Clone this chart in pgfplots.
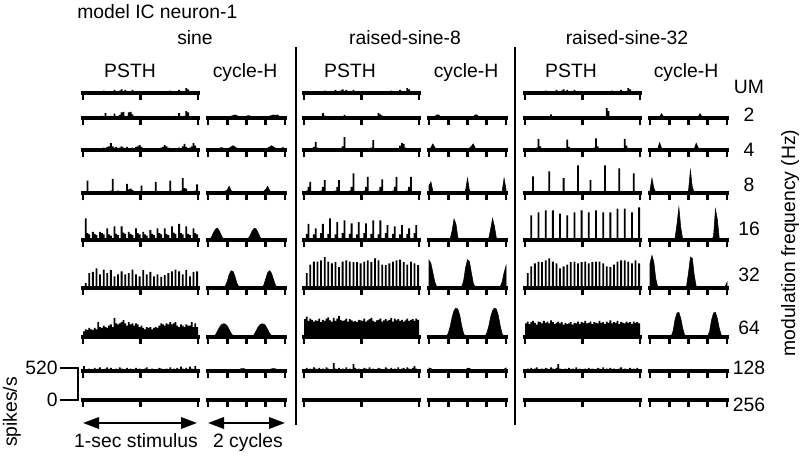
\documentclass[border=0pt]{standalone}
\usepackage{fontspec}
\setmainfont{Liberation Sans}
\usepackage{pgfplots}
\pgfplotsset{compat=1.18}
\usetikzlibrary{arrows.meta}
\pgfplotsset{
  hbase/.style={scale only axis, clip=false, anchor=south west,
    axis x line=bottom, axis y line=none,
    x axis line style={-, line width=2.3pt, line cap=rect},
    every outer x axis line/.append style={line width=2.3pt},
    tick align=outside, major tick length=5.5pt,
    major tick style={black, line width=2.2pt},
    xticklabels={}, ymin=0, ymax=700, y=0.046154pt,
    enlargelimits=false},
  psthax/.style={hbase, width=86.25pt, xmin=-0.5, xmax=63.5, xtick={-0.5,31.5,63.5}},
  cycax/.style={hbase, width=57.75pt, xmin=0, xmax=40, xtick={0,10,20,30,40}},
}
\newcommand{\psth}[3]{%
  \begin{axis}[psthax, at={(#1*0.75pt,-#2*0.75pt)}]
  \addplot[ybar, bar width=1, fill=black, draw=none]
    table[header=false, x expr=\coordindex, y index=0, row sep=\\]{#3};
  \end{axis}}
\newcommand{\cych}[3]{%
  \begin{axis}[cycax, at={(#1*0.75pt,-#2*0.75pt)}]
  \addplot[fill=black, draw=black, line width=0.4pt]
    table[header=false, x expr=\coordindex, y index=0, row sep=\\]{#3} \closedcycle;
  \end{axis}}
\newcommand{\psthempty}[2]{\begin{axis}[psthax, at={(#1*0.75pt,-#2*0.75pt)}]\end{axis}}
\newcommand{\cycempty}[2]{\begin{axis}[cycax, at={(#1*0.75pt,-#2*0.75pt)}]\end{axis}}

\begin{document}
\begin{tikzpicture}
\path[use as bounding box] (0,0) rectangle (600pt,-342pt);
\begin{scope}[x=0.75pt, y=-0.75pt, every node/.style={inner sep=0pt, font=\fontsize{14.5}{17}\selectfont}]
\node[anchor=base west] at (77,19) {model IC neuron-1};
\node[anchor=base] at (195,45) {sine};
\node[anchor=base] at (405,45) {raised-sine-8};
\node[anchor=base] at (627,45) {raised-sine-32};
\node[anchor=base] at (130,78) {PSTH};
\node[anchor=base] at (350,78) {PSTH};
\node[anchor=base] at (571,78) {PSTH};
\node[anchor=base] at (245,78) {cycle-H};
\node[anchor=base] at (466,78) {cycle-H};
\node[anchor=base] at (686,78) {cycle-H};
\node at (749,87) {UM};
\node at (749,115) {2};
\node at (749,150) {4};
\node at (749,185) {8};
\node at (749,229) {16};
\node at (749,275) {32};
\node at (749,328) {64};
\node at (749,368) {128};
\node at (749,405) {256};
\node[rotate=90] at (790,243) {modulation frequency (Hz)};
\node[rotate=90] at (12,412) {spikes/s};
\node[anchor=east] at (58,368) {520};
\node[anchor=east] at (58,400) {0};
\draw[line width=1.7pt] (60,368) -- (78,368) -- (78,400) -- (60,400);
\draw[line width=1.5pt] (296,47) -- (296,425);
\draw[line width=1.5pt] (515,47) -- (515,425);
\draw[line width=1.7pt, {Triangle[length=12pt,width=8.5pt]}-{Triangle[length=12pt,width=8.5pt]}] (83,423) -- (197,423);
\draw[line width=1.7pt, {Triangle[length=12pt,width=8.5pt]}-{Triangle[length=12pt,width=8.5pt]}] (208,423) -- (285,423);
\node[anchor=base] at (136,447) {1-sec stimulus};
\node[anchor=base] at (248,447) {2 cycles};
\end{scope}

% ---------------- sine ----------------
\psth{83}{93}{0\\20\\0\\0\\20\\0\\0\\20\\0\\0\\20\\40\\0\\0\\20\\0\\30\\50\\0\\20\\40\\60\\20\\50\\0\\20\\0\\50\\20\\0\\20\\0\\30\\0\\20\\0\\20\\30\\0\\20\\0\\20\\0\\30\\20\\0\\20\\0\\40\\20\\0\\20\\30\\50\\0\\20\\20\\80\\60\\30\\0\\30\\20\\0\\}
\psth{83}{118}{25\\20\\30\\25\\20\\30\\25\\20\\30\\25\\35\\30\\80\\25\\30\\35\\20\\70\\30\\25\\50\\90\\100\\30\\35\\90\\100\\60\\30\\25\\35\\25\\30\\20\\25\\30\\25\\20\\30\\25\\20\\30\\25\\30\\20\\25\\30\\25\\20\\25\\30\\35\\25\\80\\30\\25\\35\\110\\90\\30\\25\\20\\30\\25\\}
\psth{83}{150}{20\\0\\0\\30\\0\\20\\30\\20\\30\\20\\30\\40\\30\\50\\60\\110\\60\\40\\50\\30\\40\\60\\40\\30\\50\\30\\20\\40\\30\\50\\60\\80\\50\\20\\0\\20\\0\\0\\20\\0\\0\\20\\30\\40\\50\\80\\60\\40\\30\\20\\30\\20\\30\\40\\30\\60\\100\\50\\30\\40\\60\\110\\70\\30\\}
\psth{83}{193}{0\\30\\200\\20\\0\\10\\0\\10\\20\\10\\0\\0\\10\\20\\30\\40\\230\\30\\20\\40\\10\\0\\20\\30\\150\\60\\70\\50\\10\\0\\10\\30\\120\\20\\0\\0\\10\\0\\20\\30\\180\\20\\0\\10\\0\\10\\20\\30\\200\\20\\0\\10\\0\\20\\40\\240\\80\\70\\20\\0\\10\\0\\40\\140\\}
\psth{83}{240}{0\\350\\110\\90\\0\\130\\100\\80\\0\\130\\110\\90\\0\\190\\90\\70\\0\\220\\100\\80\\0\\220\\120\\100\\0\\130\\100\\80\\0\\190\\110\\90\\0\\130\\90\\70\\0\\160\\100\\80\\0\\190\\110\\90\\0\\190\\100\\80\\0\\220\\120\\100\\0\\260\\110\\90\\0\\220\\100\\80\\0\\190\\110\\90\\}
\psth{83}{288}{0\\80\\0\\240\\0\\260\\0\\320\\0\\220\\0\\300\\0\\240\\0\\290\\0\\190\\0\\220\\0\\270\\0\\220\\0\\240\\0\\300\\0\\220\\0\\190\\0\\290\\0\\220\\0\\260\\0\\190\\0\\220\\0\\180\\0\\210\\0\\240\\0\\270\\0\\300\\0\\270\\0\\220\\0\\290\\0\\190\\0\\260\\0\\270\\}
\psth{83}{337}{90\\125\\115\\150\\125\\115\\150\\125\\240\\160\\150\\185\\160\\150\\185\\205\\160\\310\\220\\205\\220\\240\\275\\220\\185\\240\\205\\220\\185\\220\\205\\160\\185\\150\\125\\160\\150\\160\\125\\150\\160\\150\\185\\220\\205\\185\\220\\205\\240\\205\\220\\240\\185\\160\\205\\185\\160\\205\\185\\185\\240\\160\\220\\160\\}
\psth{83}{371}{80\\30\\20\\40\\30\\20\\50\\30\\40\\60\\30\\20\\40\\60\\30\\50\\30\\20\\40\\30\\60\\40\\30\\20\\50\\30\\40\\20\\30\\50\\30\\40\\20\\30\\40\\60\\30\\20\\40\\30\\20\\30\\50\\40\\30\\20\\40\\30\\60\\30\\40\\20\\50\\30\\70\\40\\30\\50\\30\\70\\40\\30\\80\\30\\}
\psthempty{83}{400}
\cych{208}{118}{10\\10\\10\\10\\10\\20\\10\\10\\10\\20\\10\\20\\30\\40\\50\\40\\20\\20\\30\\20\\30\\40\\30\\20\\10\\10\\20\\10\\20\\30\\20\\20\\30\\40\\50\\40\\50\\30\\20\\10\\10\\}
\cych{208}{150}{10\\10\\20\\10\\20\\20\\30\\40\\30\\20\\20\\30\\50\\70\\50\\30\\20\\10\\10\\20\\10\\10\\20\\10\\10\\20\\20\\10\\20\\30\\20\\30\\50\\70\\50\\30\\20\\20\\30\\40\\20\\}
\cych{208}{193}{10\\10\\10\\10\\10\\10\\10\\10\\10\\30\\50\\110\\40\\10\\10\\10\\10\\10\\10\\10\\10\\10\\10\\10\\10\\10\\10\\10\\10\\30\\60\\110\\40\\10\\10\\10\\10\\10\\10\\10\\10\\}
\cych{208}{240}{0\\10\\60\\130\\180\\190\\140\\70\\20\\0\\0\\0\\0\\0\\0\\0\\0\\0\\0\\0\\10\\30\\80\\150\\190\\180\\120\\50\\10\\0\\0\\0\\0\\0\\0\\0\\0\\0\\0\\0\\0\\}
\cych{208}{288}{0\\0\\0\\0\\0\\0\\0\\0\\0\\30\\110\\220\\280\\270\\190\\80\\20\\0\\0\\0\\0\\0\\0\\0\\0\\0\\0\\0\\10\\50\\150\\250\\280\\240\\140\\50\\10\\0\\0\\0\\0\\}
\cych{208}{337}{0\\0\\0\\10\\40\\100\\160\\200\\215\\210\\180\\120\\60\\20\\0\\0\\0\\0\\0\\0\\0\\0\\0\\10\\40\\100\\160\\200\\215\\210\\180\\120\\60\\20\\0\\0\\0\\0\\0\\0\\0\\}
\cych{208}{371}{5\\5\\5\\5\\5\\5\\5\\5\\5\\5\\5\\5\\5\\5\\5\\15\\25\\35\\40\\35\\25\\15\\5\\5\\5\\5\\5\\5\\5\\5\\5\\15\\25\\35\\40\\35\\25\\15\\5\\5\\5\\}
\cycempty{208}{400}

% ---------------- raised-sine-8 ----------------
\psth{304}{93}{0\\20\\0\\0\\20\\0\\0\\20\\0\\0\\20\\40\\0\\0\\20\\0\\30\\50\\0\\20\\40\\60\\20\\50\\0\\20\\0\\50\\20\\0\\20\\0\\30\\0\\20\\0\\20\\30\\0\\20\\0\\20\\0\\30\\20\\0\\20\\0\\40\\20\\0\\20\\30\\50\\0\\20\\20\\80\\60\\30\\0\\30\\20\\0\\}
\psth{304}{118}{10\\0\\10\\0\\10\\0\\10\\0\\10\\30\\80\\40\\20\\10\\0\\10\\0\\10\\0\\10\\10\\30\\50\\20\\10\\0\\10\\0\\10\\0\\10\\0\\10\\0\\10\\10\\0\\10\\0\\10\\30\\80\\60\\40\\20\\10\\0\\10\\0\\10\\0\\10\\10\\0\\30\\20\\10\\0\\10\\0\\10\\0\\10\\0\\}
\psth{304}{150}{0\\10\\0\\10\\20\\50\\130\\40\\10\\0\\10\\0\\10\\0\\10\\0\\10\\0\\10\\0\\20\\60\\210\\30\\10\\0\\10\\0\\10\\0\\10\\0\\10\\0\\10\\0\\20\\40\\160\\20\\10\\0\\10\\0\\10\\0\\10\\0\\10\\0\\10\\0\\30\\70\\110\\100\\40\\10\\0\\10\\0\\10\\0\\10\\}
\psth{304}{193}{10\\40\\100\\180\\20\\10\\0\\10\\0\\40\\100\\210\\20\\10\\0\\10\\0\\40\\100\\210\\20\\10\\0\\10\\0\\40\\100\\320\\20\\10\\0\\10\\0\\40\\100\\260\\20\\10\\0\\10\\0\\40\\100\\220\\20\\10\\0\\10\\0\\40\\100\\260\\20\\10\\0\\10\\0\\40\\100\\260\\20\\10\\0\\10\\}
\psth{304}{240}{0\\100\\260\\20\\0\\90\\190\\20\\0\\110\\260\\20\\0\\100\\350\\20\\0\\90\\290\\20\\0\\110\\320\\20\\0\\100\\270\\20\\0\\90\\290\\20\\0\\110\\270\\20\\0\\100\\320\\20\\0\\90\\320\\20\\0\\110\\240\\20\\0\\100\\220\\20\\0\\90\\240\\20\\0\\100\\190\\20\\0\\110\\240\\20\\}
\psth{304}{288}{0\\240\\0\\380\\0\\430\\0\\430\\0\\450\\0\\500\\0\\430\\0\\400\\0\\420\\0\\340\\0\\430\\0\\450\\0\\430\\0\\420\\0\\420\\0\\400\\0\\430\\0\\450\\0\\420\\0\\480\\0\\450\\0\\380\\0\\370\\0\\400\\0\\430\\0\\450\\0\\460\\0\\420\\0\\380\\0\\430\\0\\400\\0\\370\\}
\psth{304}{337}{290\\330\\260\\300\\280\\250\\270\\260\\300\\240\\280\\260\\300\\320\\270\\250\\310\\260\\300\\340\\280\\260\\270\\300\\250\\290\\270\\250\\260\\240\\280\\270\\260\\300\\250\\270\\290\\310\\260\\240\\270\\280\\300\\250\\270\\290\\260\\280\\310\\250\\300\\270\\290\\260\\280\\250\\270\\300\\260\\280\\290\\260\\300\\280\\}
\psth{304}{371}{30\\50\\20\\40\\30\\60\\40\\20\\50\\30\\40\\30\\60\\40\\30\\20\\130\\40\\30\\50\\20\\40\\30\\60\\30\\40\\20\\110\\50\\30\\40\\30\\20\\50\\40\\30\\60\\30\\40\\20\\30\\50\\40\\30\\20\\60\\40\\30\\50\\30\\40\\20\\60\\30\\40\\50\\30\\60\\40\\30\\50\\80\\40\\30\\}
\psthempty{304}{400}
\cych{429}{118}{10\\10\\10\\20\\50\\50\\20\\10\\10\\10\\0\\10\\0\\10\\0\\10\\0\\10\\0\\10\\0\\10\\10\\20\\50\\50\\20\\10\\0\\10\\0\\10\\0\\10\\0\\10\\0\\10\\0\\10\\10\\}
\cych{429}{150}{10\\40\\100\\40\\10\\0\\10\\0\\10\\0\\10\\0\\10\\0\\10\\0\\10\\0\\10\\0\\10\\30\\60\\100\\30\\10\\0\\10\\0\\10\\0\\10\\0\\10\\0\\10\\0\\10\\0\\10\\10\\}
\cych{429}{193}{120\\180\\30\\10\\0\\10\\0\\10\\0\\10\\0\\10\\0\\10\\0\\10\\0\\10\\0\\40\\240\\40\\10\\0\\10\\0\\10\\0\\10\\0\\10\\0\\10\\0\\10\\0\\10\\0\\30\\240\\60\\}
\cych{429}{240}{0\\0\\0\\0\\0\\0\\0\\0\\0\\0\\0\\20\\150\\340\\260\\40\\0\\0\\0\\0\\0\\0\\0\\0\\0\\0\\0\\0\\0\\0\\0\\20\\170\\350\\220\\30\\0\\0\\0\\0\\0\\}
\cych{429}{288}{450\\400\\250\\100\\20\\0\\0\\0\\0\\0\\0\\0\\0\\0\\0\\0\\0\\20\\120\\330\\460\\430\\250\\80\\10\\0\\0\\0\\0\\0\\0\\0\\0\\0\\0\\0\\0\\20\\100\\250\\360\\}
\cych{429}{337}{0\\0\\0\\0\\0\\0\\0\\0\\0\\10\\60\\170\\320\\430\\470\\450\\350\\180\\50\\10\\0\\0\\0\\0\\0\\0\\0\\0\\0\\10\\60\\170\\320\\430\\470\\450\\350\\180\\50\\10\\0\\}
\cych{429}{371}{50\\40\\20\\10\\5\\5\\5\\5\\5\\5\\5\\5\\5\\5\\5\\5\\5\\5\\5\\20\\45\\45\\20\\5\\5\\5\\5\\5\\5\\5\\5\\5\\5\\5\\5\\5\\5\\5\\10\\30\\50\\}
\cycempty{429}{400}

% ---------------- raised-sine-32 ----------------
\psth{525}{93}{0\\20\\0\\0\\20\\0\\0\\20\\0\\0\\20\\40\\0\\0\\20\\0\\30\\50\\0\\20\\40\\60\\20\\50\\0\\20\\0\\50\\20\\0\\20\\0\\30\\0\\20\\0\\20\\30\\0\\20\\0\\20\\0\\30\\20\\0\\20\\0\\40\\20\\0\\20\\30\\50\\0\\20\\20\\80\\60\\30\\0\\30\\20\\0\\}
\psth{525}{118}{0\\10\\0\\10\\0\\10\\0\\10\\0\\10\\0\\10\\0\\30\\60\\20\\0\\10\\0\\10\\0\\10\\0\\10\\0\\10\\0\\10\\0\\10\\0\\10\\0\\10\\0\\10\\0\\10\\0\\10\\0\\10\\0\\10\\30\\160\\110\\20\\0\\10\\0\\10\\0\\10\\0\\10\\0\\10\\0\\10\\0\\10\\0\\10\\}
\psth{525}{150}{0\\10\\0\\10\\0\\10\\40\\180\\60\\10\\0\\10\\0\\10\\0\\10\\0\\10\\0\\10\\0\\10\\30\\170\\50\\10\\0\\10\\0\\10\\0\\10\\0\\10\\0\\10\\0\\10\\40\\190\\60\\10\\0\\10\\0\\10\\0\\10\\0\\10\\0\\10\\0\\10\\30\\180\\70\\10\\0\\10\\0\\10\\0\\10\\}
\psth{525}{193}{0\\10\\0\\30\\270\\30\\0\\10\\0\\10\\0\\10\\30\\350\\30\\10\\0\\10\\0\\10\\30\\240\\30\\10\\0\\10\\0\\10\\30\\450\\30\\10\\0\\10\\0\\30\\210\\30\\0\\10\\0\\10\\0\\30\\450\\30\\0\\10\\0\\10\\0\\30\\400\\30\\0\\10\\0\\10\\0\\30\\320\\30\\0\\10\\}
\psth{525}{240}{0\\0\\10\\400\\0\\0\\10\\450\\0\\0\\10\\480\\0\\0\\10\\480\\0\\0\\10\\430\\0\\0\\10\\400\\0\\0\\10\\450\\0\\0\\10\\480\\0\\0\\10\\450\\0\\0\\10\\480\\0\\0\\10\\450\\0\\0\\10\\450\\0\\0\\10\\510\\0\\0\\10\\510\\0\\0\\10\\450\\0\\0\\10\\530\\}
\psth{525}{288}{0\\240\\0\\350\\0\\400\\0\\430\\0\\420\\0\\450\\0\\480\\0\\430\\0\\400\\0\\320\\0\\350\\0\\380\\0\\420\\0\\430\\0\\400\\0\\420\\0\\430\\0\\400\\0\\420\\0\\430\\0\\430\\0\\400\\0\\350\\0\\340\\0\\380\\0\\430\\0\\450\\0\\450\\0\\430\\0\\400\\0\\450\\0\\400\\}
\psth{525}{337}{220\\250\\210\\240\\260\\230\\200\\250\\240\\220\\260\\230\\250\\220\\270\\240\\210\\230\\250\\220\\240\\200\\230\\210\\220\\240\\200\\230\\220\\250\\210\\240\\230\\260\\220\\230\\250\\210\\240\\230\\220\\260\\230\\240\\210\\250\\230\\270\\220\\240\\230\\260\\210\\240\\230\\220\\250\\230\\240\\210\\250\\230\\240\\220\\}
\psth{525}{371}{30\\40\\20\\50\\30\\40\\60\\30\\20\\40\\30\\50\\40\\30\\60\\40\\30\\50\\110\\40\\30\\20\\40\\30\\50\\30\\40\\20\\60\\30\\40\\30\\20\\40\\30\\50\\30\\40\\20\\30\\50\\40\\30\\60\\30\\40\\20\\50\\30\\40\\30\\20\\40\\60\\30\\40\\30\\20\\50\\30\\40\\30\\50\\20\\}
\psthempty{525}{400}
\cych{650}{118}{0\\0\\0\\0\\0\\20\\70\\20\\0\\0\\0\\0\\0\\0\\0\\0\\0\\0\\0\\0\\0\\0\\0\\0\\0\\20\\70\\20\\0\\0\\0\\0\\0\\0\\0\\0\\0\\0\\0\\0\\0\\}
\cych{650}{150}{0\\0\\0\\0\\20\\120\\30\\0\\0\\0\\0\\0\\0\\0\\0\\0\\0\\0\\0\\0\\0\\0\\0\\20\\110\\40\\0\\0\\0\\0\\0\\0\\0\\0\\0\\0\\0\\0\\0\\0\\0\\}
\cych{650}{193}{40\\240\\80\\10\\0\\0\\0\\0\\0\\0\\0\\0\\0\\0\\0\\0\\0\\0\\0\\0\\40\\370\\90\\10\\0\\0\\0\\0\\0\\0\\0\\0\\0\\0\\0\\0\\0\\0\\0\\0\\0\\}
\cych{650}{240}{0\\0\\0\\0\\0\\0\\0\\0\\0\\0\\0\\0\\0\\30\\250\\530\\200\\10\\0\\0\\0\\0\\0\\0\\0\\0\\0\\0\\0\\0\\0\\0\\0\\60\\500\\330\\20\\0\\0\\0\\0\\}
\cych{650}{288}{400\\530\\420\\150\\20\\0\\0\\0\\0\\0\\0\\0\\0\\0\\0\\0\\0\\0\\0\\30\\250\\500\\480\\200\\30\\0\\0\\0\\0\\0\\0\\0\\0\\0\\0\\0\\0\\0\\0\\20\\90\\}
\cych{650}{337}{0\\0\\0\\0\\0\\0\\0\\0\\0\\0\\0\\10\\100\\280\\390\\400\\300\\140\\30\\0\\0\\0\\0\\0\\0\\0\\0\\0\\0\\0\\10\\100\\280\\390\\400\\300\\140\\30\\0\\0\\0\\}
\cycempty{650}{371}
\cycempty{650}{400}
\end{tikzpicture}
\end{document}
